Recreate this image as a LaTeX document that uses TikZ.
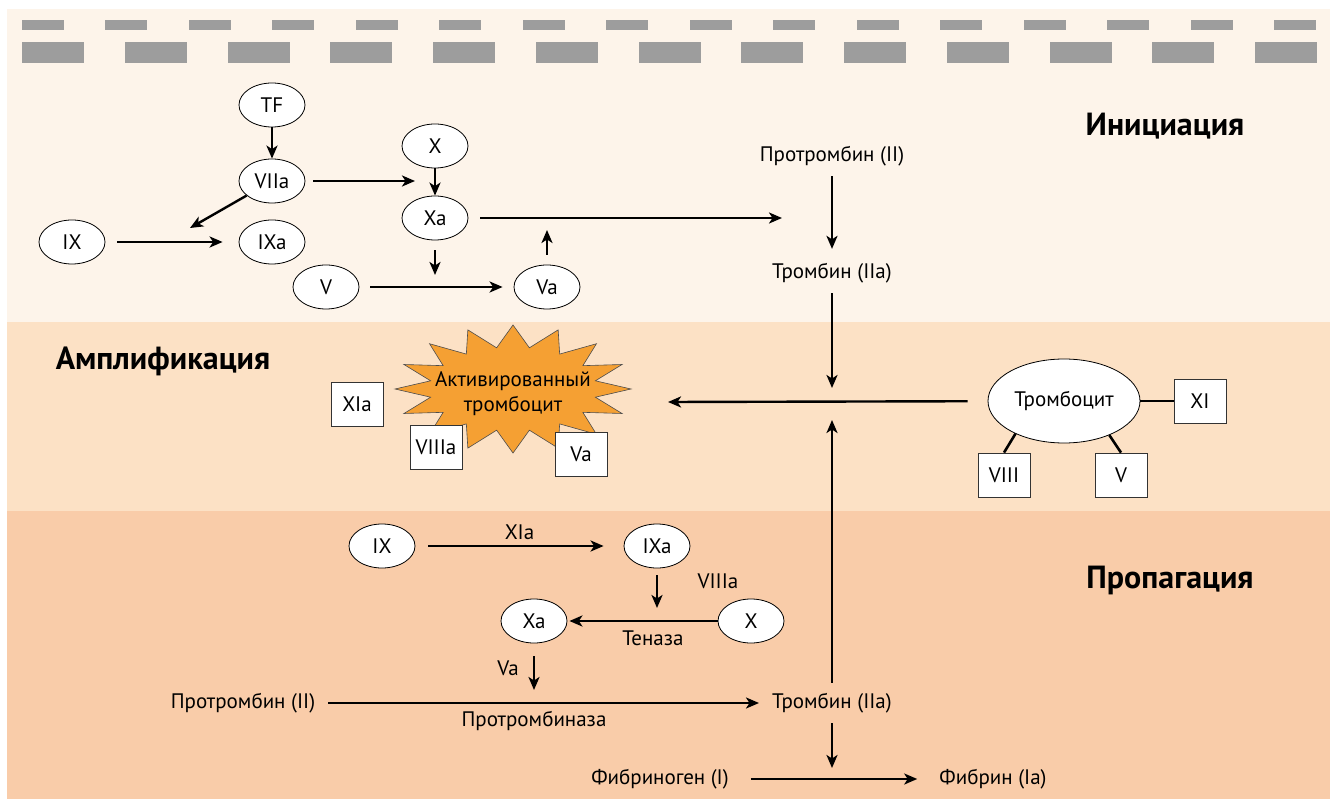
\documentclass[tikz,border=0pt]{standalone}
\usepackage{fontspec}
\setmainfont{PT Sans}
\usetikzlibrary{arrows.meta,shapes.geometric}
\definecolor{bandA}{HTML}{FDF4EA}
\definecolor{bandB}{HTML}{FCE1C5}
\definecolor{bandC}{HTML}{F9CCA9}
\definecolor{dashgray}{HTML}{9D9D9D}
\definecolor{starorange}{HTML}{F5A033}
\begin{document}
\begin{tikzpicture}[x=1pt,y=-1pt,
  every node/.style={font=\fontsize{21}{24}\selectfont},
  fac/.style={ellipse,draw=black,line width=0.8pt,fill=white,minimum width=66pt,minimum height=44pt,inner sep=0pt},
  facbox/.style={rectangle,draw=black!80,line width=0.8pt,fill=white,minimum width=52pt,minimum height=44pt,inner sep=0pt},
  lbl/.style={inner sep=2pt},
  head/.style={font=\fontsize{32}{36}\selectfont\bfseries},
  arr/.style={line width=2.4pt,-{Stealth[length=13pt,width=11pt,inset=3.5pt]}},
  link/.style={line width=2.6pt}]
\useasboundingbox (0,0) rectangle (1336,799);
% background bands
\fill[bandA] (7,9) rectangle (1330,322);
\fill[bandB] (7,322) rectangle (1330,511);
\fill[bandC] (7,511) rectangle (1330,799);
% vessel wall dashes
\foreach \i in {0,...,15} \fill[dashgray] ({22+\i*83.47},20) rectangle ++(42,10);
\foreach \i in {0,...,12} \fill[dashgray] ({22+\i*102.75},42) rectangle ++(62,21);
% headings
\node[head] (hinit) at (1165,126) {Инициация};
\node[head] (hampl) at (163,361) {Амплификация};
\node[head] (hprop) at (1170,580) {Пропагация};
% initiation
\node[fac] (TF) at (272,105) {TF};
\node[fac] (VIIa) at (272,181) {VIIa};
\node[fac] (X1) at (435,146) {X};
\node[fac] (Xa1) at (435,218) {Xa};
\node[fac] (IX1) at (72,242) {IX};
\node[fac] (IXa1) at (272,242) {IXa};
\node[fac] (V1) at (326,287) {V};
\node[fac] (Va1) at (547,287) {Va};
\coordinate (c1) at (415,181);
\coordinate (c2) at (190,228);
\coordinate (c3) at (782,218);
\coordinate (c4) at (435,275);
\coordinate (c5) at (547,230);
\draw[arr] (TF) -- (VIIa);
\draw[arr,shorten <=8pt] (VIIa) -- (c1);
\draw[arr] (VIIa) -- (c2);
\draw[arr,shorten <=12pt,shorten >=16pt] (IX1) -- (IXa1);
\draw[arr] (X1) -- (Xa1);
\draw[arr,shorten <=12pt] (Xa1) -- (c3);
\draw[arr,shorten <=10pt] (Xa1) -- (c4);
\draw[arr,shorten <=11pt,shorten >=11pt] (V1) -- (Va1);
\draw[arr,shorten <=10pt] (Va1) -- (c5);
\node[lbl] (P1) at (832,156) {Протромбин (II)};
\node[lbl] (T1) at (832,273) {Тромбин (IIa)};
\draw[arr,shorten <=8pt,shorten >=12pt] (P1) -- (T1);
% amplification
\coordinate (c6) at (832,388);
\coordinate (c7) at (668,402);
\coordinate (c8) at (832,420);
\draw[arr,shorten <=8pt] (T1) -- (c6);
\fill[starorange,draw=black!70,line width=0.6pt] plot[samples at={0,...,31}] ({513+((mod(\x,2)==0)?118:84)*cos(\x*11.25)},{389+((mod(\x,2)==0)?64:42)*sin(\x*11.25)}) -- cycle;
\node[align=center,font=\fontsize{21}{25}\selectfont] (act) at (513,394) {Активированный\\тромбоцит};
\node[facbox] (XIa) at (357,404) {XIa};
\node[facbox] (VIIIa) at (436,447) {VIIIa};
\node[facbox] (Va2) at (581,454) {Va};
\node[ellipse,draw=black,line width=0.8pt,fill=white,minimum width=152pt,minimum height=84pt,inner sep=0pt] (Trc) at (1064,401) {Тромбоцит};
\node[facbox] (XI) at (1200,401) {XI};
\node[facbox] (VIII) at (1004,475) {VIII};
\node[facbox] (V2) at (1121,475) {V};
\draw[link] (Trc) -- (XI);
\draw[link] (Trc.214) -- (VIII.north);
\draw[link] (Trc.323) -- (V2.north);
\draw[arr,shorten <=20pt] (Trc) -- (c7);
% propagation
\node[fac] (IX2) at (382,546) {IX};
\node[fac] (IXa2) at (657,546) {IXa};
\node[fac] (Xa2) at (534,621) {Xa};
\node[fac] (X2) at (751,621) {X};
\coordinate (c9) at (657,608);
\coordinate (c10) at (534,690);
\draw[arr,shorten <=13pt,shorten >=20pt] (IX2) -- node[lbl,above=3pt] (lXIa) {XIa} (IXa2);
\node[lbl] (lVIIIa) at (718,581) {VIIIa};
\draw[arr,shorten <=7pt] (IXa2) -- (c9);
\draw[arr,shorten >=2pt] (X2) -- (Xa2);
\node[lbl] (lten) at (653,638) {Теназа};
\draw[arr,shorten <=13pt] (Xa2) -- (c10);
\node[lbl] (lVa) at (508,668) {Va};
\node[lbl] (P2) at (243,703) {Протромбин (II)};
\node[lbl] (T2) at (832,703) {Тромбин (IIa)};
\draw[arr,shorten <=11pt,shorten >=11pt] (P2) -- (T2);
\node[lbl] (lpro) at (534,721) {Протромбиназа};
\draw[arr,shorten <=8pt] (T2) -- (c8);
\coordinate (c11) at (832,768);
\draw[arr,shorten <=8pt] (T2) -- (c11);
\node[lbl] (Fg) at (660,779) {Фибриноген (I)};
\node[lbl] (Fb) at (993,779) {Фибрин (Ia)};
\draw[arr,shorten <=20pt,shorten >=20pt] (Fg) -- (Fb);
\end{tikzpicture}
\end{document}
